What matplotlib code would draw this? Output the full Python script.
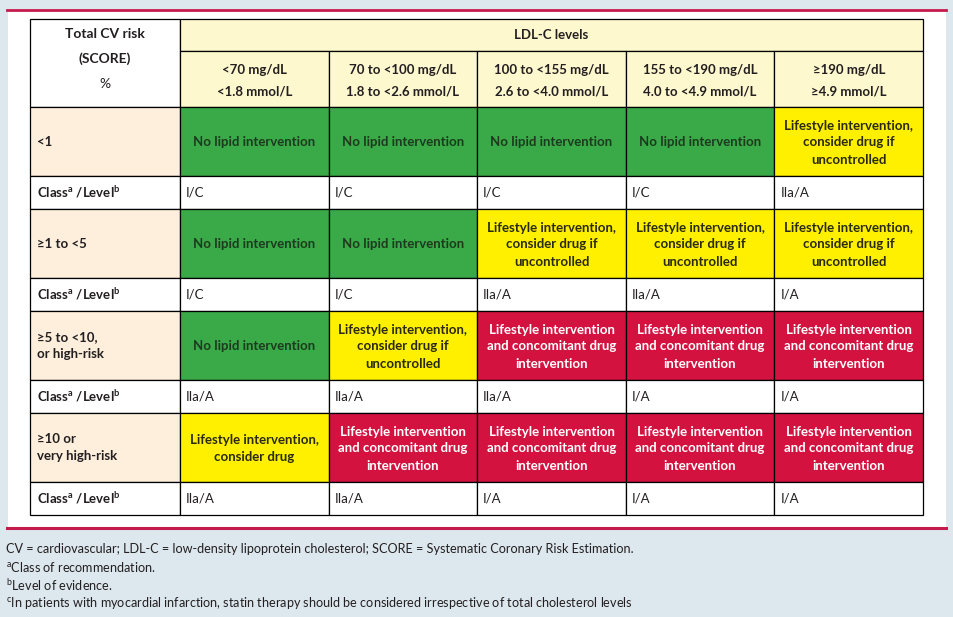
import matplotlib
matplotlib.use('Agg')
import matplotlib.pyplot as plt
from matplotlib.patches import Rectangle

plt.rcParams['font.family'] = ['Lato', 'DejaVu Sans']
plt.rcParams['mathtext.fontset'] = 'custom'
plt.rcParams['mathtext.rm'] = 'Lato'
plt.rcParams['mathtext.bf'] = 'Lato:bold'

# table content
risk_levels = ['<1', '\u22651 to <5', '\u22655 to <10,\nor high-risk', '\u226510 or\nvery high-risk']
ldl_mg = ['<70 mg/dL', '70 to <100 mg/dL', '100 to <155 mg/dL', '155 to <190 mg/dL', '\u2265190 mg/dL']
ldl_mmol = ['<1.8 mmol/L', '1.8 to <2.6 mmol/L', '2.6 to <4.0 mmol/L', '4.0 to <4.9 mmol/L', '\u22654.9 mmol/L']

actions = [
    ['none', 'none', 'none', 'none', 'consider'],
    ['none', 'none', 'consider', 'consider', 'consider'],
    ['none', 'consider', 'combined', 'combined', 'combined'],
    ['drug', 'combined', 'combined', 'combined', 'combined'],
]
classes = [
    ['I/C', 'I/C', 'I/C', 'I/C', 'IIa/A'],
    ['I/C', 'I/C', 'IIa/A', 'IIa/A', 'I/A'],
    ['IIa/A', 'IIa/A', 'IIa/A', 'I/A', 'I/A'],
    ['IIa/A', 'IIa/A', 'I/A', 'I/A', 'I/A'],
]
action_text = {
    'none': 'No lipid intervention',
    'consider': 'Lifestyle intervention,\nconsider drug if\nuncontrolled',
    'drug': 'Lifestyle intervention,\nconsider drug',
    'combined': 'Lifestyle intervention\nand concomitant drug\nintervention',
}
action_color = {'none': '#3aa948', 'consider': '#fff000', 'drug': '#fff000', 'combined': '#d3123f'}
action_tc = {'none': '#1c3a1e', 'consider': '#2a2a10', 'drug': '#2a2a10', 'combined': 'white'}

footnotes = [
    'CV = cardiovascular; LDL-C = low-density lipoprotein cholesterol; SCORE = Systematic Coronary Risk Estimation.',
    r'$^{\mathrm{a}}$Class of recommendation.',
    r'$^{\mathrm{b}}$Level of evidence.',
    r'$^{\mathrm{c}}$In patients with myocardial infarction, statin therapy should be considered irrespective of total cholesterol levels',
]

BG = '#dde8ee'
RED_LINE = '#c41a4c'
HEAD = '#fef8cf'
LEFT = '#fdefdc'
TXT = '#231f20'
FS = 9.5

fig = plt.figure(figsize=(9.54, 6.17), dpi=100)
fig.patch.set_facecolor(BG)
ax = fig.add_axes([0, 0, 1, 1])
ax.set_xlim(0, 954)
ax.set_ylim(617, 0)
ax.axis('off')

# white panel with red rules
ax.add_patch(Rectangle((8, 9), 938, 519, facecolor='white', edgecolor='none'))
ax.plot([7, 946], [9.5, 9.5], color=RED_LINE, lw=2)
ax.plot([7, 946], [527.5, 527.5], color=RED_LINE, lw=2.2)

# geometry
x0, w0, wc = 30, 150, 148.6
col_x = [x0 + w0 + i * wc for i in range(len(ldl_mg))]
y_top, y_mid, y_head = 19, 51, 107
h_main, h_cls = 69, 33

def cell(x, y, w, h, fc):
    ax.add_patch(Rectangle((x, y), w, h, facecolor=fc, edgecolor='black', lw=0.9))

# header
cell(x0, y_top, w0, y_head - y_top, 'white')
cell(x0 + w0, y_top, wc * len(ldl_mg), y_mid - y_top, HEAD)
ax.text(x0 + w0 / 2, 34, 'Total CV risk', ha='center', va='center', fontsize=10, fontweight='bold', color=TXT)
ax.text(x0 + w0 / 2, 59, '(SCORE)', ha='center', va='center', fontsize=10, fontweight='bold', color=TXT)
ax.text(x0 + w0 / 2, 84, '%', ha='center', va='center', fontsize=10, color=TXT)
ax.text(x0 + w0 + wc * len(ldl_mg) / 2, 35, 'LDL-C levels', ha='center', va='center',
        fontsize=FS, fontweight='bold', color=TXT)
for cx, mg, mm in zip(col_x, ldl_mg, ldl_mmol):
    cell(cx, y_mid, wc, y_head - y_mid, HEAD)
    ax.text(cx + wc / 2, 70, mg, ha='center', va='center', fontsize=FS, fontweight='bold', color=TXT)
    ax.text(cx + wc / 2, 91, mm, ha='center', va='center', fontsize=FS, fontweight='bold', color=TXT)

# body
y = y_head
for risk, acts, cls in zip(risk_levels, actions, classes):
    cell(x0, y, w0, h_main, LEFT)
    ax.text(x0 + 7, y + h_main / 2, risk, ha='left', va='center', fontsize=FS,
            fontweight='bold', color=TXT, linespacing=1.45)
    for cx, a in zip(col_x, acts):
        cell(cx, y, wc, h_main, action_color[a])
        ax.text(cx + wc / 2, y + h_main / 2 + 1, action_text[a], ha='center', va='center',
                multialignment='center', fontsize=FS, fontweight='bold',
                color=action_tc[a], linespacing=1.5)
    y += h_main
    cell(x0, y, w0, h_cls, 'white')
    ax.text(x0 + 7, y + h_cls / 2, r'Class$^{\mathbf{a}}$ /Level$^{\mathbf{b}}$', ha='left', va='center',
            fontsize=FS, fontweight='bold', color=TXT)
    for cx, c in zip(col_x, cls):
        cell(cx, y, wc, h_cls, 'white')
        ax.text(cx + 6, y + h_cls / 2, c, ha='left', va='center', fontsize=FS, color=TXT)
    y += h_cls

# footnotes
for i, note in enumerate(footnotes):
    ax.text(6, 549 + i * 18, note, ha='left', va='center', fontsize=9.1, color=TXT)

fig.savefig('out.png', dpi=100, facecolor=BG)
